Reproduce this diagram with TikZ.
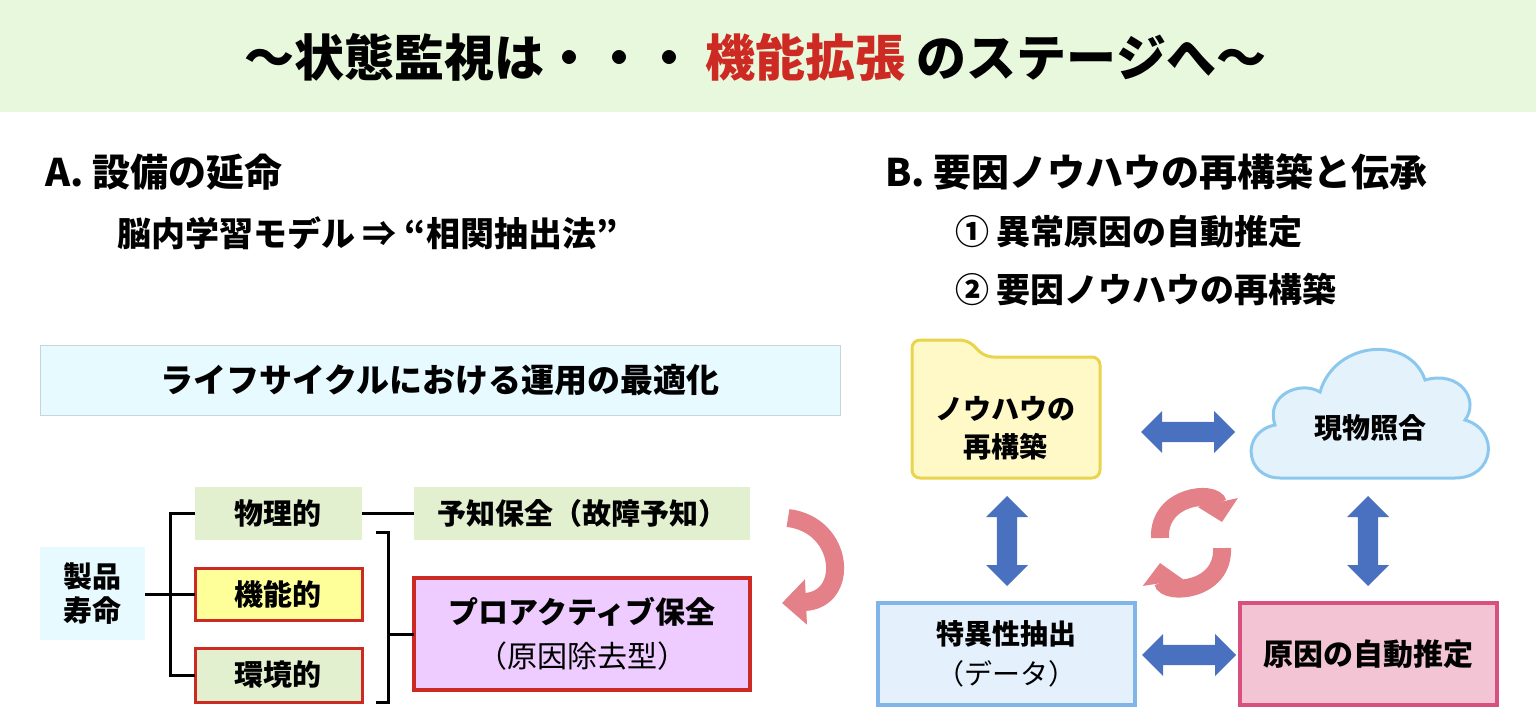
\documentclass[tikz,border=0pt]{standalone}
\usepackage{fontspec}
\setmainfont{Noto Sans CJK JP}[BoldFont={Noto Sans CJK JP Black}]
\usetikzlibrary{shapes.arrows,arrows.meta}
\definecolor{tgreen}{HTML}{E8F8DC}
\definecolor{tred}{HTML}{CC2A22}
\definecolor{lcyan}{HTML}{E6FAFF}
\definecolor{lgreen}{HTML}{E2F0D0}
\definecolor{lyel}{HTML}{FFFF99}
\definecolor{lpur}{HTML}{EECCFF}
\definecolor{fold}{HTML}{FFF9C8}
\definecolor{foldb}{HTML}{E8D44D}
\definecolor{cloudf}{HTML}{E4F2FB}
\definecolor{cloudb}{HTML}{8CC8EE}
\definecolor{boxb}{HTML}{E4F0FB}
\definecolor{boxbb}{HTML}{7FB5E8}
\definecolor{pinkf}{HTML}{F2C4D4}
\definecolor{pinkb}{HTML}{D85080}
\definecolor{arrb}{HTML}{4A70C0}
\definecolor{arrp}{HTML}{E38088}
\begin{document}
\begin{tikzpicture}[x=0.5pt,y=-0.5pt,font=\bfseries,
  bx/.style={draw=none,inner sep=0pt,align=center,font=\bfseries\fontsize{14.5}{17}\selectfont},
  dbl/.style={double arrow,fill=arrb,draw=none,minimum width=21pt,double arrow head extend=5pt,inner xsep=0pt,inner ysep=4.5pt,double arrow head indent=0pt},
  fat/.style={draw=arrp,line width=9pt,-{Triangle[length=12pt,width=22pt]}}]
\useasboundingbox (0,0) rectangle (1536,707);
\fill[tgreen] (0,0) rectangle (1536,112);
\node (title) at (755,57) {\fontsize{25}{30}\selectfont 〜状態監視は・・・ \textcolor{tred}{機能拡張} のステージへ〜};
\node[anchor=west] (A) at (38,172) {\fontsize{19}{22}\selectfont A.\ 設備の延命};
\node[anchor=west] (A1) at (110,233) {\fontsize{17}{20}\selectfont 脳内学習モデル ⇒ “相関抽出法”};
\node[anchor=west] (B) at (878,172) {\fontsize{19}{22}\selectfont B.\ 要因ノウハウの再構築と伝承};
\node[anchor=west] (B1) at (948,232) {\fontsize{17}{20}\selectfont ① 異常原因の自動推定};
\node[anchor=west] (B2) at (948,289) {\fontsize{17}{20}\selectfont ② 要因ノウハウの再構築};
% left
\draw[fill=lcyan,draw=lcyan!70!gray] (40,345) rectangle (840,415);
\node[bx,font=\bfseries\fontsize{16.5}{20}\selectfont] (lc) at (440,380) {ライフサイクルにおける運用の最適化};
\draw[fill=lcyan,draw=none] (40,547) rectangle (145,640);
\node[bx] (prod) at (92,594) {製品\\寿命};
\fill[lgreen] (195,487) rectangle (362,540);
\node[bx] (phys) at (278,513) {物理的};
\draw[fill=lyel,draw=tred,line width=1.5pt] (195,568) rectangle (362,620);
\node[bx] (func) at (278,594) {機能的};
\draw[fill=lgreen,draw=tred,line width=1.5pt] (195,648) rectangle (362,702);
\node[bx] (env) at (278,675) {環境的};
\fill[lgreen] (414,487) rectangle (750,540);
\node[bx] (pred) at (582,513) {予知保全（故障予知）};
\draw[fill=lpur,draw=tred,line width=2pt] (414,578) rectangle (750,690);
\node[bx,font=\bfseries\fontsize{15}{22}\selectfont] (pro) at (582,634) {プロアクティブ保全\\\mdseries（原因除去型）};
\begin{scope}[line width=1.5pt]
\draw (145,594) -- (195,594);
\draw (195,513) -- (170,513) -- (170,675) -- (195,675);
\draw (362,513) -- (414,513);
\draw (376,532) -- (388,532) -- (388,702) -- (376,702);
\draw (388,634) -- (414,634);
\end{scope}
\draw[fat] (788,518) .. controls (845,525) and (850,600) .. (782,603);
% right
\draw[fill=fold,draw=foldb,line width=1.5pt,rounded corners=4pt] (912,478) -- (912,340) -- (968,340) -- (985,357) -- (1100,357) -- (1100,478) -- cycle;
\node[bx,font=\bfseries\fontsize{14}{19}\selectfont] (know) at (1005,428) {ノウハウの\\再構築};
\draw[fill=cloudf,draw=cloudb,line width=1.5pt]
 (1280,478) .. controls (1245,478) and (1240,432) .. (1275,425)
 .. controls (1265,395) and (1300,380) .. (1320,392)
 .. controls (1335,340) and (1410,335) .. (1425,380)
 .. controls (1460,370) and (1480,400) .. (1465,420)
 .. controls (1500,430) and (1495,478) .. (1455,478) -- cycle;
\node[bx,font=\bfseries\fontsize{14}{16}\selectfont] (cloud) at (1370,428) {現物照合};
\draw[fill=boxb,draw=boxbb,line width=2pt] (878,603) rectangle (1135,705);
\node[bx,font=\bfseries\fontsize{14}{20}\selectfont] (feat) at (1006,654) {特異性抽出\\\mdseries（データ）};
\draw[fill=pinkf,draw=pinkb,line width=2pt] (1240,603) rectangle (1497,705);
\node[bx,font=\bfseries\fontsize{15}{17}\selectfont] (cause) at (1368,654) {原因の自動推定};
\node[dbl,minimum height=47pt] (h1) at (1188,432) {};
\node[dbl,minimum height=47pt] (h2) at (1189,655) {};
\node[dbl,minimum height=45pt,rotate=90] (v1) at (1007,541) {};
\node[dbl,minimum height=45pt,rotate=90] (v2) at (1368,541) {};
\draw[fat,-{Triangle[length=10pt,width=20pt]}] (1160,538) .. controls (1158,495) and (1215,490) .. (1222,522);
\draw[fat,-{Triangle[length=10pt,width=20pt]}] (1222,548) .. controls (1224,592) and (1165,595) .. (1160,563);
\end{tikzpicture}
\end{document}
